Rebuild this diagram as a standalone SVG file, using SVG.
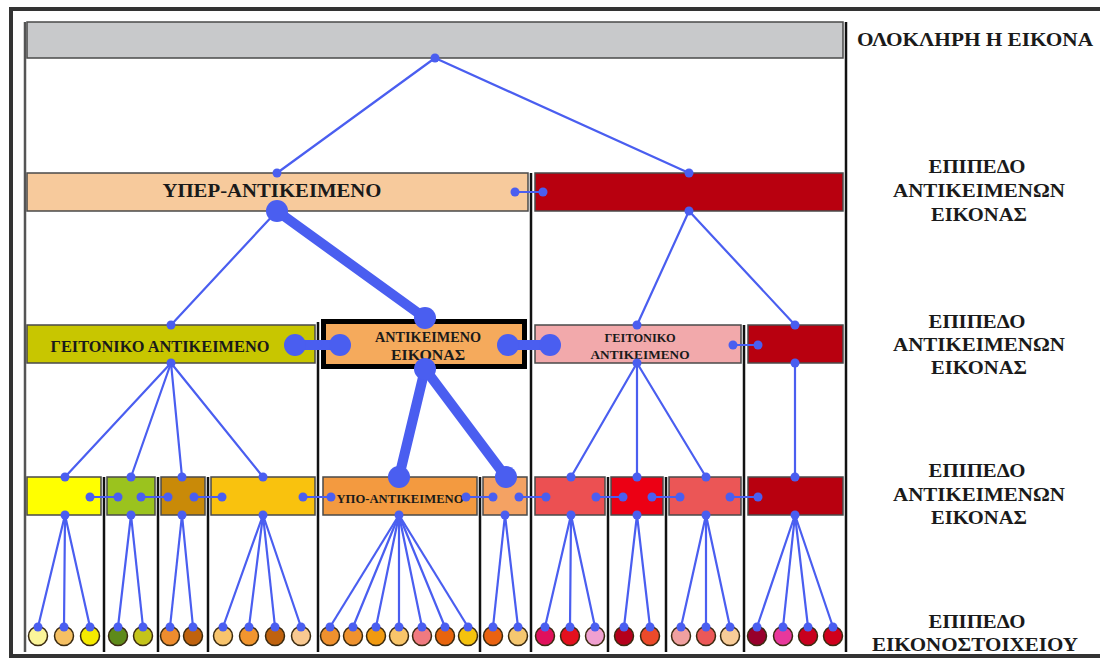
<svg xmlns="http://www.w3.org/2000/svg" width="1100" height="660" viewBox="0 0 1100 660">
<style>
.box{stroke:#4a4a4a;stroke-width:1.5}
.sep{stroke:#111;stroke-width:2.5;fill:none}
.ln{stroke:#4a5ef0;stroke-width:2.2;fill:none;stroke-linecap:round}
.thk{stroke:#4a5ef0;stroke-width:10;fill:none;stroke-linecap:round}
.dot{fill:#4a5ef0}
.leaf{stroke:#3a2a10;stroke-width:1.5}
.t{font-family:'Liberation Serif','DejaVu Serif',serif;font-weight:bold;fill:#1a1a1a;text-anchor:middle}
.lbl{font-size:18.5px}
</style>
<rect x="0" y="0" width="1100" height="660" fill="#ffffff"/>
<rect x="11" y="9" width="1100" height="647" fill="#ffffff" stroke="#333" stroke-width="4"/>

<g id="separators">
<line class="sep" x1="25" y1="22" x2="25" y2="652" style="stroke:#555"/>
<line class="sep" x1="846" y1="22" x2="846" y2="652"/>
<line class="sep" x1="531" y1="173" x2="531" y2="652"/>
<line class="sep" x1="318" y1="322" x2="318" y2="652"/>
<line class="sep" x1="744" y1="325" x2="744" y2="652"/>
<line class="sep" x1="104" y1="477" x2="104" y2="652"/>
<line class="sep" x1="158" y1="477" x2="158" y2="652"/>
<line class="sep" x1="208" y1="477" x2="208" y2="652"/>
<line class="sep" x1="480" y1="477" x2="480" y2="652"/>
<line class="sep" x1="608" y1="477" x2="608" y2="652"/>
<line class="sep" x1="666" y1="477" x2="666" y2="652"/>
</g>

<g id="whole-image"><rect class="box" x="27" y="22" width="816" height="36" fill="#c8c9cb"/></g>

<g id="super-object"><rect class="box" x="27" y="173" width="501" height="38" fill="#f7ca9c"/>
<text class="t" x="272" y="197" font-size="18.5" textLength="219" lengthAdjust="spacingAndGlyphs">ΥΠΕΡ-ΑΝΤΙΚΕΙΜΕΝΟ</text></g>
<g id="red-object-1"><rect class="box" x="535" y="173" width="308" height="38" fill="#b8000f"/></g>

<g id="neighbor-object-1"><rect class="box" x="27" y="325" width="288" height="38" fill="#c8c600"/>
<text class="t" x="160" y="352" font-size="17.5" textLength="219" lengthAdjust="spacingAndGlyphs">ΓΕΙΤΟΝΙΚΟ ΑΝΤΙΚΕΙΜΕΝΟ</text></g>
<g id="image-object"><rect x="323.5" y="321.5" width="201" height="45" fill="#f5aa5c" stroke="#000" stroke-width="5"/>
<text class="t" x="428" y="342" font-size="14" textLength="106" lengthAdjust="spacingAndGlyphs">ΑΝΤΙΚΕΙΜΕΝΟ</text>
<text class="t" x="428" y="360" font-size="14" textLength="74" lengthAdjust="spacingAndGlyphs">ΕΙΚΟΝΑΣ</text></g>
<g id="neighbor-object-2"><rect class="box" x="535" y="325" width="206" height="38" fill="#f2a9ab"/>
<text class="t" x="640" y="342" font-size="13" textLength="71" lengthAdjust="spacingAndGlyphs">ΓΕΙΤΟΝΙΚΟ</text>
<text class="t" x="640" y="359" font-size="13" textLength="99" lengthAdjust="spacingAndGlyphs">ΑΝΤΙΚΕΙΜΕΝΟ</text></g>
<g id="red-object-2"><rect class="box" x="748" y="325" width="95" height="38" fill="#b8000f"/></g>

<g id="sub-1"><rect class="box" x="27" y="477" width="74" height="38" fill="#ffff00"/></g>
<g id="sub-2"><rect class="box" x="107" y="477" width="48" height="38" fill="#9bc31e"/></g>
<g id="sub-3"><rect class="box" x="161" y="477" width="44" height="38" fill="#c98a08"/></g>
<g id="sub-4"><rect class="box" x="211" y="477" width="104" height="38" fill="#f9c20e"/></g>
<g id="sub-5"><rect class="box" x="323" y="477" width="154" height="38" fill="#f39a40"/>
<text class="t" x="400" y="503" font-size="13" textLength="127" lengthAdjust="spacingAndGlyphs">ΥΠΟ-ΑΝΤΙΚΕΙΜΕΝΟ</text></g>
<g id="sub-6"><rect class="box" x="483" y="477" width="44" height="38" fill="#f4a263"/></g>
<g id="sub-7"><rect class="box" x="535" y="477" width="70" height="38" fill="#ec5052"/></g>
<g id="sub-8"><rect class="box" x="611" y="477" width="52" height="38" fill="#ec0014"/></g>
<g id="sub-9"><rect class="box" x="669" y="477" width="72" height="38" fill="#eb5656"/></g>
<g id="sub-10"><rect class="box" x="748" y="477" width="95" height="38" fill="#b8000f"/></g>

<g id="pixels">
<circle class="leaf" cx="38" cy="636" r="9.5" fill="#fbf59a"/>
<circle class="leaf" cx="64" cy="636" r="9.5" fill="#f5c063"/>
<circle class="leaf" cx="90" cy="636" r="9.5" fill="#f5ea00"/>
<circle class="leaf" cx="118" cy="636" r="9.5" fill="#5e8a1a"/>
<circle class="leaf" cx="143" cy="636" r="9.5" fill="#c4c41a"/>
<circle class="leaf" cx="170" cy="636" r="9.5" fill="#ee8c2e"/>
<circle class="leaf" cx="193" cy="636" r="9.5" fill="#c0620e"/>
<circle class="leaf" cx="223" cy="636" r="9.5" fill="#f8c46c"/>
<circle class="leaf" cx="249" cy="636" r="9.5" fill="#f1952e"/>
<circle class="leaf" cx="275" cy="636" r="9.5" fill="#c0620e"/>
<circle class="leaf" cx="301" cy="636" r="9.5" fill="#f9c991"/>
<circle class="leaf" cx="330" cy="636" r="9.5" fill="#f0912e"/>
<circle class="leaf" cx="353" cy="636" r="9.5" fill="#ef922e"/>
<circle class="leaf" cx="376" cy="636" r="9.5" fill="#f19a10"/>
<circle class="leaf" cx="399" cy="636" r="9.5" fill="#f8c56a"/>
<circle class="leaf" cx="422" cy="636" r="9.5" fill="#f07a80"/>
<circle class="leaf" cx="445" cy="636" r="9.5" fill="#e8640c"/>
<circle class="leaf" cx="468" cy="636" r="9.5" fill="#f4c20e"/>
<circle class="leaf" cx="493" cy="636" r="9.5" fill="#ea6210"/>
<circle class="leaf" cx="518" cy="636" r="9.5" fill="#f5c770"/>
<circle class="leaf" cx="545" cy="636" r="9.5" fill="#e0105c"/>
<circle class="leaf" cx="570" cy="636" r="9.5" fill="#e4101e"/>
<circle class="leaf" cx="595" cy="636" r="9.5" fill="#f0a0d0"/>
<circle class="leaf" cx="624" cy="636" r="9.5" fill="#b5001c"/>
<circle class="leaf" cx="650" cy="636" r="9.5" fill="#ec4a2a"/>
<circle class="leaf" cx="681" cy="636" r="9.5" fill="#f0a0a0"/>
<circle class="leaf" cx="706" cy="636" r="9.5" fill="#ec5858"/>
<circle class="leaf" cx="730" cy="636" r="9.5" fill="#f8cc98"/>
<circle class="leaf" cx="757" cy="636" r="9.5" fill="#98002c"/>
<circle class="leaf" cx="783" cy="636" r="9.5" fill="#e8389c"/>
<circle class="leaf" cx="808" cy="636" r="9.5" fill="#c8001e"/>
<circle class="leaf" cx="833" cy="636" r="9.5" fill="#d0001c"/>
</g>

<g id="connectors">
<line class="ln" x1="435" y1="58" x2="277" y2="173"/>
<line class="ln" x1="435" y1="58" x2="689" y2="173"/>
<line class="ln" x1="515" y1="192" x2="543" y2="192"/>
<line class="ln" x1="277" y1="211" x2="171" y2="325"/>
<line class="thk" x1="277" y1="211" x2="425" y2="318"/>
<line class="ln" x1="689" y1="211" x2="637" y2="325"/>
<line class="ln" x1="689" y1="211" x2="795" y2="325"/>
<line class="thk" x1="295" y1="345" x2="340" y2="345"/>
<line class="thk" x1="508" y1="345" x2="550" y2="345"/>
<line class="ln" x1="733" y1="345" x2="758" y2="345"/>
<line class="ln" x1="171" y1="363" x2="65" y2="477"/>
<line class="ln" x1="171" y1="363" x2="131" y2="477"/>
<line class="ln" x1="171" y1="363" x2="182" y2="477"/>
<line class="ln" x1="171" y1="363" x2="263" y2="477"/>
<line class="thk" x1="425" y1="369" x2="399" y2="477"/>
<line class="thk" x1="425" y1="369" x2="506" y2="477"/>
<line class="ln" x1="637" y1="363" x2="571" y2="477"/>
<line class="ln" x1="637" y1="363" x2="637" y2="477"/>
<line class="ln" x1="637" y1="363" x2="706" y2="477"/>
<line class="ln" x1="795" y1="363" x2="795" y2="477"/>
<line class="ln" x1="90" y1="497" x2="118" y2="497"/>
<line class="ln" x1="141" y1="497" x2="168" y2="497"/>
<line class="ln" x1="194" y1="497" x2="222" y2="497"/>
<line class="ln" x1="303" y1="497" x2="331" y2="497"/>
<line class="ln" x1="466" y1="497" x2="493" y2="497"/>
<line class="ln" x1="519" y1="497" x2="546" y2="497"/>
<line class="ln" x1="596" y1="497" x2="623" y2="497"/>
<line class="ln" x1="652" y1="497" x2="680" y2="497"/>
<line class="ln" x1="730" y1="497" x2="758" y2="497"/>
<line class="ln" x1="65" y1="515" x2="38" y2="627"/>
<line class="ln" x1="65" y1="515" x2="64" y2="627"/>
<line class="ln" x1="65" y1="515" x2="90" y2="627"/>
<line class="ln" x1="131" y1="515" x2="118" y2="627"/>
<line class="ln" x1="131" y1="515" x2="143" y2="627"/>
<line class="ln" x1="182" y1="515" x2="170" y2="627"/>
<line class="ln" x1="182" y1="515" x2="193" y2="627"/>
<line class="ln" x1="263" y1="515" x2="223" y2="627"/>
<line class="ln" x1="263" y1="515" x2="249" y2="627"/>
<line class="ln" x1="263" y1="515" x2="275" y2="627"/>
<line class="ln" x1="263" y1="515" x2="301" y2="627"/>
<line class="ln" x1="399" y1="515" x2="330" y2="627"/>
<line class="ln" x1="399" y1="515" x2="353" y2="627"/>
<line class="ln" x1="399" y1="515" x2="376" y2="627"/>
<line class="ln" x1="399" y1="515" x2="399" y2="627"/>
<line class="ln" x1="399" y1="515" x2="422" y2="627"/>
<line class="ln" x1="399" y1="515" x2="445" y2="627"/>
<line class="ln" x1="399" y1="515" x2="468" y2="627"/>
<line class="ln" x1="505" y1="515" x2="493" y2="627"/>
<line class="ln" x1="505" y1="515" x2="518" y2="627"/>
<line class="ln" x1="571" y1="515" x2="545" y2="627"/>
<line class="ln" x1="571" y1="515" x2="570" y2="627"/>
<line class="ln" x1="571" y1="515" x2="595" y2="627"/>
<line class="ln" x1="637" y1="515" x2="624" y2="627"/>
<line class="ln" x1="637" y1="515" x2="650" y2="627"/>
<line class="ln" x1="706" y1="515" x2="681" y2="627"/>
<line class="ln" x1="706" y1="515" x2="706" y2="627"/>
<line class="ln" x1="706" y1="515" x2="730" y2="627"/>
<line class="ln" x1="795" y1="515" x2="757" y2="627"/>
<line class="ln" x1="795" y1="515" x2="783" y2="627"/>
<line class="ln" x1="795" y1="515" x2="808" y2="627"/>
<line class="ln" x1="795" y1="515" x2="833" y2="627"/>
<g class="dot">
<circle cx="435" cy="58" r="4.5"/><circle cx="277" cy="173" r="4.5"/><circle cx="689" cy="173" r="4.5"/>
<circle cx="515" cy="192" r="4.5"/><circle cx="543" cy="192" r="4.5"/>
<circle cx="277" cy="211" r="11"/><circle cx="425" cy="318" r="11"/><circle cx="689" cy="211" r="4.5"/>
<circle cx="171" cy="325" r="4.5"/><circle cx="637" cy="325" r="4.5"/><circle cx="795" cy="325" r="4.5"/>
<circle cx="295" cy="345" r="11"/><circle cx="340" cy="345" r="11"/><circle cx="508" cy="345" r="11"/><circle cx="550" cy="345" r="11"/>
<circle cx="733" cy="345" r="4.5"/><circle cx="758" cy="345" r="4.5"/>
<circle cx="171" cy="363" r="4.5"/><circle cx="425" cy="369" r="11"/><circle cx="637" cy="363" r="4.5"/><circle cx="795" cy="363" r="4.5"/>
<circle cx="65" cy="477" r="4.5"/><circle cx="131" cy="477" r="4.5"/><circle cx="182" cy="477" r="4.5"/><circle cx="263" cy="477" r="4.5"/>
<circle cx="399" cy="477" r="11"/><circle cx="506" cy="477" r="11"/>
<circle cx="571" cy="477" r="4.5"/><circle cx="637" cy="477" r="4.5"/><circle cx="706" cy="477" r="4.5"/><circle cx="795" cy="477" r="4.5"/>
<circle cx="90" cy="497" r="4.5"/><circle cx="118" cy="497" r="4.5"/><circle cx="141" cy="497" r="4.5"/><circle cx="168" cy="497" r="4.5"/>
<circle cx="194" cy="497" r="4.5"/><circle cx="222" cy="497" r="4.5"/><circle cx="303" cy="497" r="4.5"/><circle cx="331" cy="497" r="4.5"/>
<circle cx="466" cy="497" r="4.5"/><circle cx="493" cy="497" r="4.5"/><circle cx="519" cy="497" r="4.5"/><circle cx="546" cy="497" r="4.5"/>
<circle cx="596" cy="497" r="4.5"/><circle cx="623" cy="497" r="4.5"/><circle cx="652" cy="497" r="4.5"/><circle cx="680" cy="497" r="4.5"/>
<circle cx="730" cy="497" r="4.5"/><circle cx="758" cy="497" r="4.5"/>
<circle cx="65" cy="515" r="4.5"/><circle cx="131" cy="515" r="4.5"/><circle cx="182" cy="515" r="4.5"/><circle cx="263" cy="515" r="4.5"/>
<circle cx="399" cy="515" r="4.5"/><circle cx="505" cy="515" r="4.5"/><circle cx="571" cy="515" r="4.5"/><circle cx="637" cy="515" r="4.5"/>
<circle cx="706" cy="515" r="4.5"/><circle cx="795" cy="515" r="4.5"/>
<circle cx="38" cy="627" r="4.5"/><circle cx="64" cy="627" r="4.5"/><circle cx="90" cy="627" r="4.5"/>
<circle cx="118" cy="627" r="4.5"/><circle cx="143" cy="627" r="4.5"/><circle cx="170" cy="627" r="4.5"/><circle cx="193" cy="627" r="4.5"/>
<circle cx="223" cy="627" r="4.5"/><circle cx="249" cy="627" r="4.5"/><circle cx="275" cy="627" r="4.5"/><circle cx="301" cy="627" r="4.5"/>
<circle cx="330" cy="627" r="4.5"/><circle cx="353" cy="627" r="4.5"/><circle cx="376" cy="627" r="4.5"/><circle cx="399" cy="627" r="4.5"/>
<circle cx="422" cy="627" r="4.5"/><circle cx="445" cy="627" r="4.5"/><circle cx="468" cy="627" r="4.5"/>
<circle cx="493" cy="627" r="4.5"/><circle cx="518" cy="627" r="4.5"/>
<circle cx="545" cy="627" r="4.5"/><circle cx="570" cy="627" r="4.5"/><circle cx="595" cy="627" r="4.5"/>
<circle cx="624" cy="627" r="4.5"/><circle cx="650" cy="627" r="4.5"/>
<circle cx="681" cy="627" r="4.5"/><circle cx="706" cy="627" r="4.5"/><circle cx="730" cy="627" r="4.5"/>
<circle cx="757" cy="627" r="4.5"/><circle cx="783" cy="627" r="4.5"/><circle cx="808" cy="627" r="4.5"/><circle cx="833" cy="627" r="4.5"/>
</g>
</g>

<g id="level-labels">
<text class="t lbl" x="975" y="46" textLength="236" lengthAdjust="spacingAndGlyphs">ΟΛΟΚΛΗΡΗ Η ΕΙΚΟΝΑ</text>
<text class="t lbl" x="977" y="173" textLength="97" lengthAdjust="spacingAndGlyphs">ΕΠΙΠΕΔΟ</text>
<text class="t lbl" x="979" y="197" textLength="172" lengthAdjust="spacingAndGlyphs">ΑΝΤΙΚΕΙΜΕΝΩΝ</text>
<text class="t lbl" x="979" y="221" textLength="96" lengthAdjust="spacingAndGlyphs">ΕΙΚΟΝΑΣ</text>
<text class="t lbl" x="977" y="328" textLength="97" lengthAdjust="spacingAndGlyphs">ΕΠΙΠΕΔΟ</text>
<text class="t lbl" x="979" y="351" textLength="172" lengthAdjust="spacingAndGlyphs">ΑΝΤΙΚΕΙΜΕΝΩΝ</text>
<text class="t lbl" x="979" y="374" textLength="96" lengthAdjust="spacingAndGlyphs">ΕΙΚΟΝΑΣ</text>
<text class="t lbl" x="977" y="477" textLength="97" lengthAdjust="spacingAndGlyphs">ΕΠΙΠΕΔΟ</text>
<text class="t lbl" x="979" y="501" textLength="172" lengthAdjust="spacingAndGlyphs">ΑΝΤΙΚΕΙΜΕΝΩΝ</text>
<text class="t lbl" x="979" y="524" textLength="96" lengthAdjust="spacingAndGlyphs">ΕΙΚΟΝΑΣ</text>
<text class="t lbl" x="977" y="628" textLength="97" lengthAdjust="spacingAndGlyphs">ΕΠΙΠΕΔΟ</text>
<text class="t lbl" x="975" y="651" textLength="206" lengthAdjust="spacingAndGlyphs">ΕΙΚΟΝΟΣΤΟΙΧΕΙΟΥ</text>
</g>
</svg>
